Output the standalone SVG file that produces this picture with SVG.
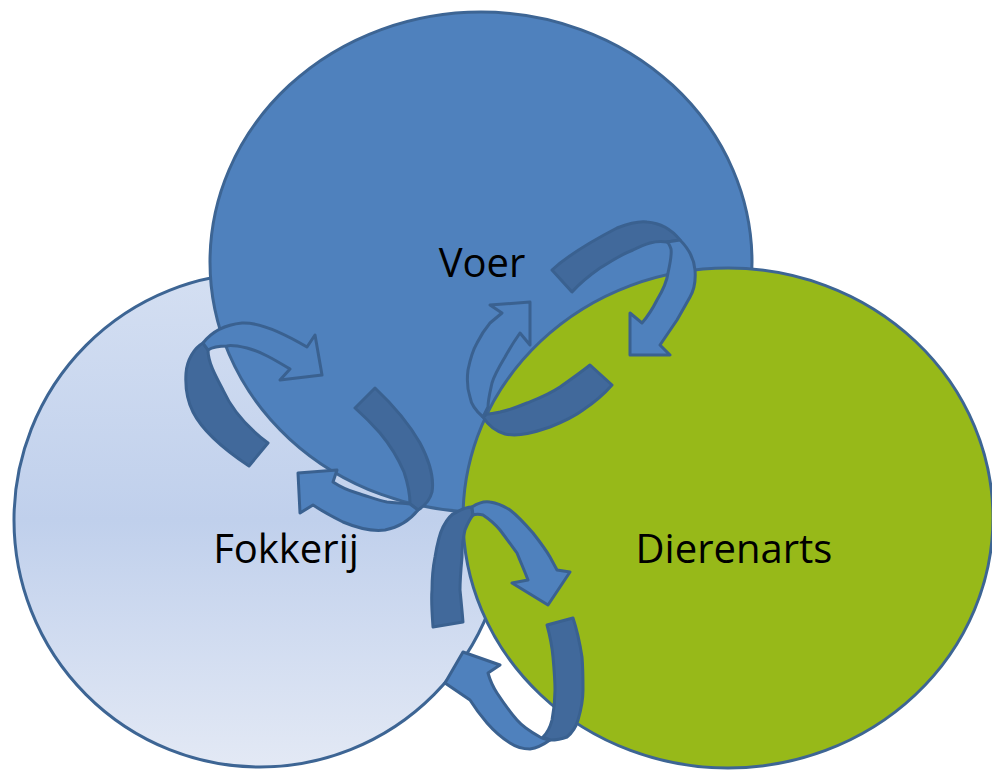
<svg xmlns="http://www.w3.org/2000/svg" width="992" height="770" viewBox="0 0 992 770">
<defs>
<linearGradient id="gLeft" x1="0" y1="0" x2="0" y2="1">
<stop offset="0" stop-color="#D4DFF2"/>
<stop offset="0.5" stop-color="#C0D0EC"/>
<stop offset="1" stop-color="#E3E9F5"/>
</linearGradient>
<style>
.ell{stroke:#3D6594;stroke-width:3}
.lbl{font-family:"Open Sans","Liberation Sans",sans-serif;font-size:40px;fill:#000;text-anchor:middle}
.dark{fill:#41699B;stroke:#3A6190;stroke-width:3;stroke-linejoin:round}
.light{fill:#4F81BD;stroke:#3A6190;stroke-width:3;stroke-linejoin:round}
</style>
</defs>
<rect width="992" height="770" fill="#FFFFFF"/>
<g id="node-fokkerij">
<ellipse class="ell" cx="260" cy="520" rx="246" ry="247" fill="url(#gLeft)"/>
</g>
<g id="node-voer">
<ellipse class="ell" cx="481" cy="262" rx="271" ry="250" fill="#4F81BD"/>
</g>
<g id="node-dierenarts">
<ellipse class="ell" cx="728" cy="518" rx="265" ry="250" fill="#97B919"/>
</g>
<g id="connectors">
<!-- pair 1: Fokkerij / Voer -->
<path class="dark" d="M203,343 C194,348 187,360 186,373 C185,388 188,402 193,412 C203,432 225,450 249,466 L268,443 C248,428 233,412 223,390 C215,375 208,362 208,350 Z"/>
<path class="light" d="M203,343 C210,334 222,325 242,323 C260,322 285,334 307,347 L315,335 L322,375 L280,380 L290,369 C275,360 262,352 247,348 C238,346 230,345 227,346 C218,346 211,348 208,350 Z"/>
<path class="dark" d="M375,388 C392,404 408,422 420,443 C430,462 434,480 432,492 C430,500 426,505 418,510 L410,504 C410,495 408,484 404,472 C398,458 390,445 380,433 C372,424 364,416 355,408 Z"/>
<path class="light" d="M418,510 C410,520 400,527 385,530 C370,532 355,527 343,522 C333,517 322,511 313,505 L300,513 L298,473 L337,470 L333,482 C342,488 350,491 357,493 C370,497 380,501 387,502 C396,503 404,503 410,504 Z"/>
<!-- pair 2: Voer / Dierenarts -->
<path class="dark" d="M552,270 C565,258 590,242 617,228 C630,223 640,221 647,222 C660,223 672,230 680,240 L667,242 C655,240 645,244 633,250 C620,255 610,262 600,268 C590,275 580,283 572,292 Z"/>
<path class="light" d="M680,240 C688,248 694,258 695,270 C696,282 694,290 690,297 C685,306 681,313 677,320 L660,345 L670,355 L630,355 L630,313 L642,323 C648,316 653,308 657,300 C663,290 667,281 668,273 C670,264 672,255 671,249 C670,246 669,243 667,242 Z"/>
<path class="dark" d="M590,365 C580,373 570,380 560,387 C548,395 537,399 527,403 C515,408 505,411 500,412 C494,413 490,414 487,414 L483,417 C488,425 495,431 505,434 C520,437 535,432 550,427 C565,421 575,416 583,410 C595,402 605,393 612,385 Z"/>
<path class="light" d="M483,417 C476,411 471,404 470,397 C467,388 467,378 468,370 C470,360 473,350 477,343 C481,335 485,329 490,323 L502,313 L490,305 L530,302 L530,345 L520,333 C515,340 510,348 505,357 C499,367 494,376 492,383 C490,392 488,400 488,407 Z"/>
<!-- pair 3: Fokkerij / Dierenarts -->
<path class="dark" d="M433,627 C432,613 431,600 432,590 C432,578 433,567 435,557 C437,545 439,535 443,527 C447,519 451,514 457,512 C462,509 467,507 472,507 L473,515 C469,520 467,525 465,530 C463,538 462,546 462,557 C461,568 460,580 460,590 C461,600 462,610 463,622 Z"/>
<path class="light" d="M472,507 C478,503 484,501 490,502 C497,503 504,506 510,510 C518,516 526,525 533,533 C540,542 546,550 550,557 L557,570 L570,572 L548,605 L512,583 L528,580 C525,572 521,563 517,553 C512,546 506,538 500,530 C495,524 489,519 483,515 C479,514 476,514 473,515 Z"/>
<path class="dark" d="M547,625 C550,636 552,646 553,657 C554,668 555,679 555,690 C555,700 554,710 552,720 C550,728 547,733 543,737 L550,740 C557,740 562,739 567,737 C573,732 576,727 578,720 C581,710 583,700 583,690 C583,678 583,668 582,657 C580,644 577,630 573,618 Z"/>
<path class="light" d="M550,740 C543,745 537,748 530,749 C523,749 516,747 510,743 C502,738 494,731 487,723 C481,716 475,708 470,700 L445,683 L463,652 L500,665 L488,673 C490,680 493,687 497,693 C503,702 509,711 517,720 C523,727 531,732 540,737 C544,739 547,740 550,740 Z"/>
</g>
<g id="labels">
<text class="lbl" x="482" y="277">Voer</text>
<text class="lbl" x="286" y="563">Fokkerij</text>
<text class="lbl" x="734" y="563">Dierenarts</text>
</g>
</svg>
